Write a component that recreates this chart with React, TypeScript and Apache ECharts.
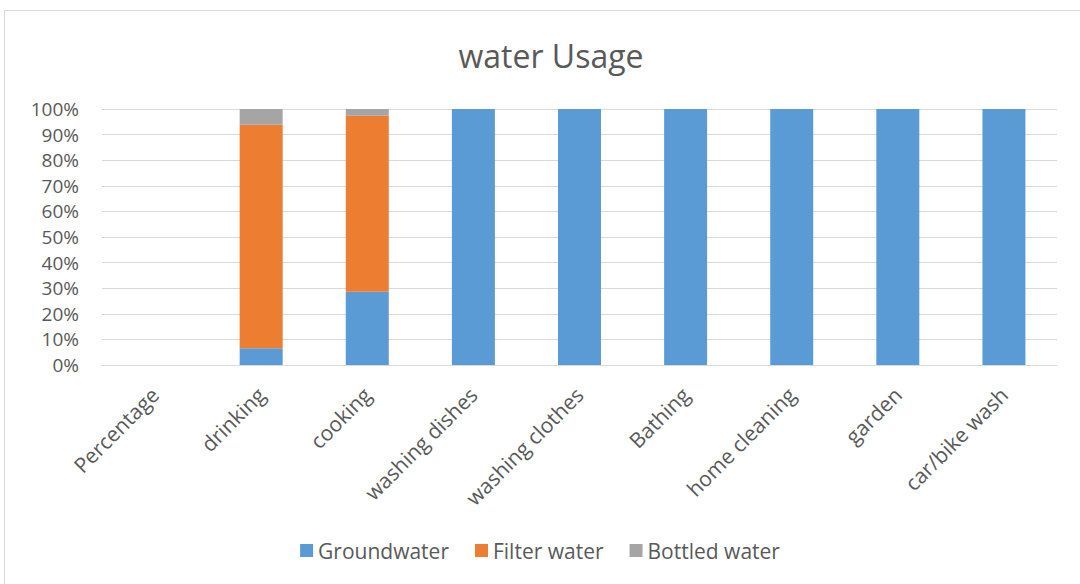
import React, { useEffect, useRef } from "react";
import * as echarts from "echarts";

const categories = ["Percentage", "drinking", "cooking", "washing dishes", "washing clothes", "Bathing", "home cleaning", "garden", "car/bike wash"];
const groundwater = [0, 6.5, 28.6, 100, 100, 100, 100, 100, 100];
const filterWater = [0, 87.3, 68.8, 0, 0, 0, 0, 0, 0];
const bottledWater = [0, 6.2, 2.6, 0, 0, 0, 0, 0, 0];
const seriesNames = ["Groundwater", "Filter water", "Bottled water"];
const colors = ["#5B9BD5", "#ED7D31", "#A5A5A5"];

const FONT = "'Open Sans', sans-serif";

export default function App() {
  const ref = useRef<HTMLDivElement>(null);
  useEffect(() => {
    if (!ref.current) return;
    const chart = echarts.init(ref.current, undefined, { renderer: "svg" });
    const dataSets = [groundwater, filterWater, bottledWater];
    chart.setOption({
      animation: false,
      backgroundColor: "#ffffff",
      title: {
        text: "water Usage",
        left: 546,
        top: 34,
        textAlign: "center",
        textStyle: { fontFamily: FONT, fontSize: 32, fontWeight: "normal", color: "#595959" },
      },
      legend: {
        bottom: 18,
        left: "center",
        itemWidth: 13,
        itemHeight: 13,
        itemGap: 26,
        icon: "rect",
        textStyle: { fontFamily: FONT, fontSize: 21, color: "#595959" },
        data: seriesNames,
      },
      grid: { left: 102, right: 23, top: 109, bottom: 219, containLabel: false },
      xAxis: {
        type: "category",
        data: categories,
        axisLine: { show: true, lineStyle: { color: "#d9d9d9", width: 1 } },
        axisTick: { show: false },
        axisLabel: {
          rotate: 45,
          margin: 26,
          fontFamily: FONT,
          fontSize: 21,
          color: "#595959",
          interval: 0,
        },
      },
      yAxis: {
        type: "value",
        min: 0,
        max: 100,
        interval: 10,
        axisLine: { show: false },
        axisTick: { show: false },
        splitLine: { lineStyle: { color: "#d9d9d9", width: 1 } },
        axisLabel: {
          formatter: (v: number) => v + "%",
          margin: 23,
          fontFamily: FONT,
          fontSize: 19,
          color: "#595959",
        },
      },
      graphic: [
        { type: "line", shape: { x1: 4.5, y1: 10.5, x2: 1080, y2: 10.5 }, style: { stroke: "#d9d9d9", lineWidth: 1 } },
        { type: "line", shape: { x1: 4.5, y1: 10.5, x2: 4.5, y2: 584 }, style: { stroke: "#d9d9d9", lineWidth: 1 } },
      ],
      series: seriesNames.map((name, i) => ({
        name,
        type: "bar",
        stack: "total",
        barWidth: 43,
        data: dataSets[i],
        itemStyle: { color: colors[i] },
      })),
    });
    return () => chart.dispose();
  }, []);
  return <div ref={ref} style={{ position: "fixed", left: 0, top: 0, width: 1080, height: 584 }} />;
}
